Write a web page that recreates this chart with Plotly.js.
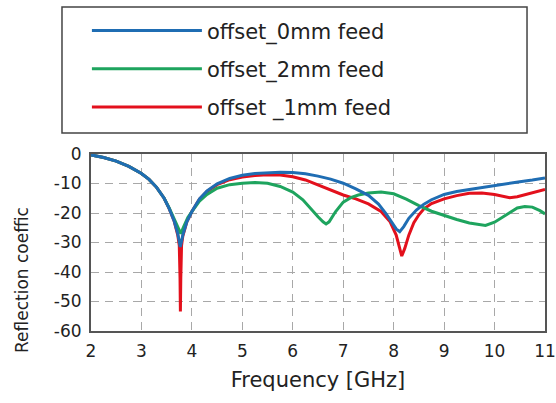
<!DOCTYPE html>
<html>
<head>
<meta charset="utf-8">
<script src="https://cdn.plot.ly/plotly-3.0.1.min.js"></script>
<style>html,body{margin:0;padding:0;background:#fff;}#chart{width:556px;height:403px;}</style>
</head>
<body>
<div id="chart"></div>
<script>
// Frequency [GHz] and reflection coefficient [dB]
var freq0 = [2.0,2.25,2.5,2.75,3.0,3.15,3.3,3.45,3.55,3.65,3.72,3.77,3.82,3.9,4.0,4.15,4.3,4.5,4.75,5.0,5.25,5.5,5.75,6.0,6.25,6.5,6.75,7.0,7.25,7.5,7.7,7.85,7.95,8.05,8.12,8.2,8.3,8.45,8.6,8.75,9.0,9.25,9.5,9.75,10.0,10.25,10.5,10.75,11.0];
var s11_0 = [-0.3,-1.2,-2.4,-4.2,-6.6,-8.6,-11.3,-15,-18.5,-22.8,-27,-31.5,-27.5,-23,-19.5,-15.2,-12.5,-10.1,-8.3,-7.2,-6.6,-6.3,-6.2,-6.3,-6.7,-7.5,-8.5,-9.9,-11.8,-14,-17,-20.3,-23,-25.4,-26.3,-24.6,-21.8,-19,-17,-15.5,-13.7,-12.7,-12,-11.3,-10.6,-10,-9.4,-8.8,-8.1];

var freq2 = [2.0,2.25,2.5,2.75,3.0,3.15,3.3,3.45,3.55,3.65,3.72,3.78,3.84,3.92,4.0,4.15,4.3,4.5,4.75,5.0,5.25,5.5,5.75,6.0,6.2,6.35,6.5,6.6,6.66,6.72,6.85,7.0,7.15,7.3,7.5,7.75,8.0,8.25,8.5,8.75,9.0,9.25,9.5,9.7,9.82,10.0,10.15,10.3,10.45,10.6,10.75,10.9,11.0];
var s11_2 = [-0.3,-1.2,-2.4,-4.2,-6.6,-8.6,-11.3,-15,-18.3,-22,-25,-27,-24.5,-21.5,-19.5,-16,-13.7,-11.6,-10.4,-9.9,-9.7,-9.9,-11,-12.9,-15.5,-18.5,-21.3,-23,-23.7,-23,-19.5,-16.3,-14.8,-13.9,-13.2,-12.9,-13.5,-15.3,-17.5,-19.4,-20.9,-22.2,-23.4,-24,-24.2,-23.1,-21.5,-19.8,-18.3,-17.8,-18,-19.2,-20.3];

var freq1 = [2.0,2.25,2.5,2.75,3.0,3.15,3.3,3.45,3.55,3.65,3.72,3.75,3.765,3.772,3.78,3.795,3.82,3.9,4.0,4.15,4.3,4.5,4.75,5.0,5.25,5.5,5.75,6.0,6.25,6.5,6.75,7.0,7.25,7.5,7.75,7.93,8.05,8.12,8.16,8.22,8.3,8.4,8.5,8.6,8.75,9.0,9.25,9.5,9.75,10.0,10.15,10.3,10.45,10.6,10.8,11.0];
var s11_1 = [-0.3,-1.2,-2.4,-4.2,-6.6,-8.6,-11.3,-15,-18.5,-22.8,-27.5,-31,-42,-53.4,-42,-31,-27.8,-23,-19.5,-15.3,-12.7,-10.4,-8.7,-7.8,-7.3,-7.0,-7.1,-7.7,-8.8,-10.5,-12.3,-13.9,-15.2,-16.9,-19.5,-23,-27.5,-31.5,-34.6,-32,-27.5,-23.3,-20.6,-18.6,-16.8,-15.2,-14.1,-13.3,-13.2,-13.7,-14.3,-14.8,-14.5,-13.8,-12.9,-12];

var seriesNames = ["offset_0mm feed", "offset_2mm feed", "offset _1mm feed"];
var xTicks = [2,3,4,5,6,7,8,9,10,11];
var yTicks = [0,-10,-20,-30,-40,-50,-60];

var lineShape = {shape: 'linear', width: 3};

var traces = [
  {x: freq1, y: s11_1, name: seriesNames[2], legendgroup: 'c', legendrank: 3, mode: 'lines',
   line: Object.assign({color: '#e3101c'}, lineShape)},
  {x: freq2, y: s11_2, name: seriesNames[1], legendgroup: 'b', legendrank: 2, mode: 'lines',
   line: Object.assign({color: '#1ea45e'}, lineShape)},
  {x: freq0, y: s11_0, name: seriesNames[0], legendgroup: 'a', legendrank: 1, mode: 'lines',
   line: Object.assign({color: '#1f6db3'}, lineShape)}
];

var axisCommon = {
  showgrid: true, gridcolor: '#a8a8a8', griddash: '8px,6px', gridwidth: 1,
  showline: true, linecolor: '#555', linewidth: 2, mirror: true,
  zeroline: false, ticks: '', ticklabelstandoff: 4,
  tickfont: {family: 'DejaVu Sans', size: 17, color: '#222'}
};

var layout = {
  width: 556, height: 403,
  margin: {l: 91, r: 11, t: 154, b: 72},
  paper_bgcolor: '#fff', plot_bgcolor: '#fff',
  showlegend: true,
  legend: {
    x: -0.009, xanchor: 'left', y: 1.812, yanchor: 'top',
    bgcolor: 'rgba(0,0,0,0)', borderwidth: 0,
    itemwidth: 110, tracegroupgap: 8,
    font: {family: 'DejaVu Sans', size: 21, color: '#222'}
  },
  xaxis: Object.assign({}, axisCommon, {
    range: [2, 11], tickvals: xTicks, ticktext: xTicks.map(String),
    title: {text: 'Frequency [GHz]', standoff: 12, font: {family: 'DejaVu Sans', size: 21, color: '#222'}}
  }),
  yaxis: Object.assign({}, axisCommon, {
    range: [-60, 0], tickvals: yTicks, ticktext: yTicks.map(String)
  }),
  shapes: [
    {type: 'rect', xref: 'paper', yref: 'paper', x0: -0.0639, x1: 0.9604, y0: 1.1186, y1: 1.8305,
     line: {color: '#444', width: 1.5}, fillcolor: 'rgba(0,0,0,0)', layer: 'below'}
  ],
  annotations: [
    {text: 'Reflection coeffic', xref: 'paper', yref: 'paper', x: -0.152, y: 0.288,
     xanchor: 'center', yanchor: 'middle', textangle: -90, showarrow: false,
     font: {family: 'DejaVu Sans', size: 17, color: '#222'}}
  ]
};

Plotly.newPlot('chart', traces, layout, {displayModeBar: false, staticPlot: true});
</script>
</body>
</html>
